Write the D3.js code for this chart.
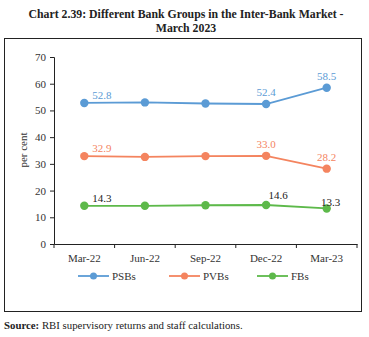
<!DOCTYPE html>
<html><head><meta charset="utf-8">
<script src="https://cdn.jsdelivr.net/npm/d3@7"></script>
<style>body{margin:0;background:#fff}svg{display:block}</style>
</head><body>
<script>
const categories = ["Mar-22","Jun-22","Sep-22","Dec-22","Mar-23"];
const psbs = [52.8, 53.0, 52.6, 52.4, 58.5];
const pvbs = [32.9, 32.6, 32.9, 33.0, 28.2];
const fbs  = [14.3, 14.3, 14.5, 14.6, 13.3];
const yTicks = [0,10,20,30,40,50,60,70];
const seriesNames = ["PSBs","PVBs","FBs"];
const colors = ["#5B9BD5","#F4845F","#5DB94A"];
const labelColors = ["#5B9BD5","#F4845F","#222"];
// which points get labels: [index, dx, dy, anchor]
const labelIdx = [
  [[0,8,-4,"start"],[3,0,-8,"middle"],[4,0,-8,"middle"]],
  [[0,8,-4,"start"],[3,0,-8,"middle"],[4,0,-8,"middle"]],
  [[0,8,-4,"start"],[3,12,-6,"middle"],[4,4,-2,"middle"]]
];

const W=369,H=337;
const svg=d3.select("body").append("svg").attr("width",W).attr("height",H);
const serif="'Liberation Serif','DejaVu Serif',serif";

svg.append("text").attr("x",186).attr("y",18).attr("text-anchor","middle")
  .attr("font-family",serif).attr("font-weight","bold").attr("font-size",11.8).attr("fill","#222")
  .text("Chart 2.39: Different Bank Groups in the Inter-Bank Market -");
svg.append("text").attr("x",186).attr("y",32).attr("text-anchor","middle")
  .attr("font-family",serif).attr("font-weight","bold").attr("font-size",11.8).attr("fill","#222")
  .text("March 2023");

svg.append("rect").attr("x",4.5).attr("y",38.5).attr("width",357).attr("height",273)
  .attr("fill","none").attr("stroke","#222").attr("stroke-width",1);

const x=d3.scaleBand().domain(categories).range([54,357]);
const y=d3.scaleLinear().domain([0,70]).range([244,57]);

const gy=svg.append("g").attr("transform","translate(54,0)")
  .call(d3.axisLeft(y).tickValues(yTicks).tickSize(4).tickPadding(4));
const gx=svg.append("g").attr("transform","translate(0,244)")
  .call(d3.axisBottom(x).tickSize(0).tickPadding(10));
[gy,gx].forEach(g=>{g.selectAll("path").attr("stroke","#222");g.selectAll("line").attr("stroke","#222");
  g.selectAll("text").attr("font-family",serif).attr("font-size",11).attr("fill","#333");});
// x tick marks at band edges
const edges=categories.map(c=>x(c)).concat([x.range()[1]]);
svg.append("g").selectAll("line").data(edges).join("line")
  .attr("x1",d=>d).attr("x2",d=>d).attr("y1",244).attr("y2",248).attr("stroke","#222");

svg.append("text").attr("transform","translate(27,150) rotate(-90)").attr("text-anchor","middle")
  .attr("font-family",serif).attr("font-size",11).attr("fill","#333").text("per cent");

const data=[psbs,pvbs,fbs];
const cx=c=>x(c)+x.bandwidth()/2;
const line=d3.line().x((d,i)=>cx(categories[i])).y(d=>y(d));
data.forEach((s,k)=>{
  svg.append("path").datum(s).attr("d",line).attr("fill","none").attr("stroke",colors[k]).attr("stroke-width",1.8);
  svg.append("g").selectAll("circle").data(s).join("circle")
    .attr("cx",(d,i)=>cx(categories[i])).attr("cy",d=>y(d)).attr("r",4.2).attr("fill",colors[k]);
  svg.append("g").selectAll("text").data(labelIdx[k]).join("text")
    .attr("x",d=>cx(categories[d[0]])+d[1]).attr("y",d=>y(s[d[0]])+d[2])
    .attr("text-anchor",d=>d[3]).attr("font-family",serif).attr("font-size",11)
    .attr("fill",labelColors[k]).text(d=>s[d[0]].toFixed(1));
});

// legend
const legX=[78,169,257];
seriesNames.forEach((n,k)=>{
  const g=svg.append("g").attr("transform",`translate(${legX[k]},276)`);
  g.append("line").attr("x1",0).attr("x2",31).attr("y1",0).attr("y2",0).attr("stroke",colors[k]).attr("stroke-width",1.8);
  g.append("circle").attr("cx",15.5).attr("cy",0).attr("r",3.5).attr("fill",colors[k]);
  g.append("text").attr("x",34).attr("y",3.5).attr("font-family",serif).attr("font-size",11).attr("fill","#333").text(n);
});

svg.append("text").attr("x",4).attr("y",329).attr("font-family",serif).attr("font-size",10.8).attr("fill","#222")
  .call(t=>{t.append("tspan").attr("font-weight","bold").text("Source: ");t.append("tspan").text("RBI supervisory returns and staff calculations.");});
</script>
</body></html>
